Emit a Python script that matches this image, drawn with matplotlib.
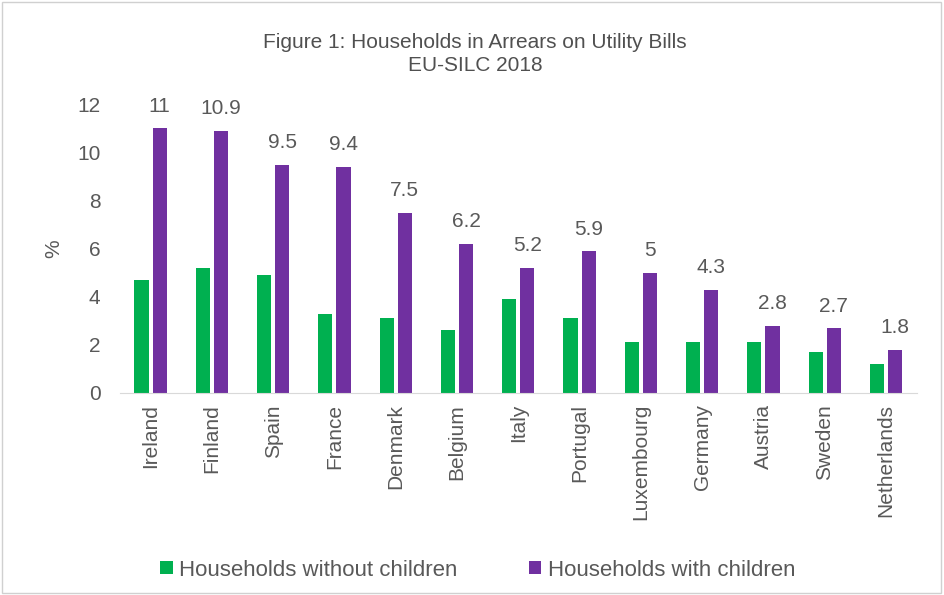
import matplotlib
matplotlib.use("Agg")
import matplotlib.pyplot as plt
import numpy as np
from matplotlib.patches import Rectangle

countries = ["Ireland", "Finland", "Spain", "France", "Denmark", "Belgium", "Italy",
             "Portugal", "Luxembourg", "Germany", "Austria", "Sweden", "Netherlands"]
without_children = [4.7, 5.2, 4.9, 3.3, 3.1, 2.6, 3.9, 3.1, 2.1, 2.1, 2.1, 1.7, 1.2]
with_children = [11, 10.9, 9.5, 9.4, 7.5, 6.2, 5.2, 5.9, 5, 4.3, 2.8, 2.7, 1.8]
yticks = [0, 2, 4, 6, 8, 10, 12]

GREEN = "#00B050"
PURPLE = "#7030A0"
TEXT = "#595959"

plt.rcParams['font.family'] = ['Liberation Sans', 'DejaVu Sans']

fig = plt.figure(figsize=(9.44, 5.95), dpi=100)
ax = fig.add_axes([0.127, 0.3395, 0.844, 0.485])

x = np.arange(len(countries))
w = 0.23
off = 0.148
ax.bar(x - off, without_children, w, color=GREEN, label="Households without children")
bars = ax.bar(x + off, with_children, w, color=PURPLE, label="Households with children")

# value labels only on the "with children" series
for b, v in zip(bars, with_children):
    ax.annotate(f"{v:g}", (b.get_x() + b.get_width() / 2, v), xytext=(0, 9),
                textcoords="offset points", ha="center", va="bottom",
                fontsize=15, color=TEXT)

ax.set_xlim(-0.5, len(countries) - 0.5)
ax.set_ylim(0, 12)
ax.set_yticks(yticks)
ax.set_xticks(x)
ax.set_xticklabels(countries, rotation=90, fontsize=15, color=TEXT)
ax.tick_params(axis="y", labelsize=15, labelcolor=TEXT, length=0, pad=14)
ax.tick_params(axis="x", length=0, pad=8)
for s in ["top", "right", "left"]:
    ax.spines[s].set_visible(False)
ax.spines["bottom"].set_color("#d9d9d9")
ax.set_ylabel("%", fontsize=15, color=TEXT, labelpad=10)

fig.text(0.503, 0.909, "Figure 1: Households in Arrears on Utility Bills\nEU-SILC 2018",
         ha="center", va="center", fontsize=15, color="#505050", linespacing=1.3)

fig.legend(loc="center", bbox_to_anchor=(0.506, 0.042), ncol=2, frameon=False,
           fontsize=16, labelcolor=TEXT, handlelength=0.55, handleheight=0.55,
           handletextpad=0.3, columnspacing=3.2)

fig.patches.append(Rectangle((0.002, 0.003), 0.995, 0.994, transform=fig.transFigure,
                             fill=False, edgecolor="#d0d0d0", linewidth=1))

fig.savefig("out.png", dpi=100)
